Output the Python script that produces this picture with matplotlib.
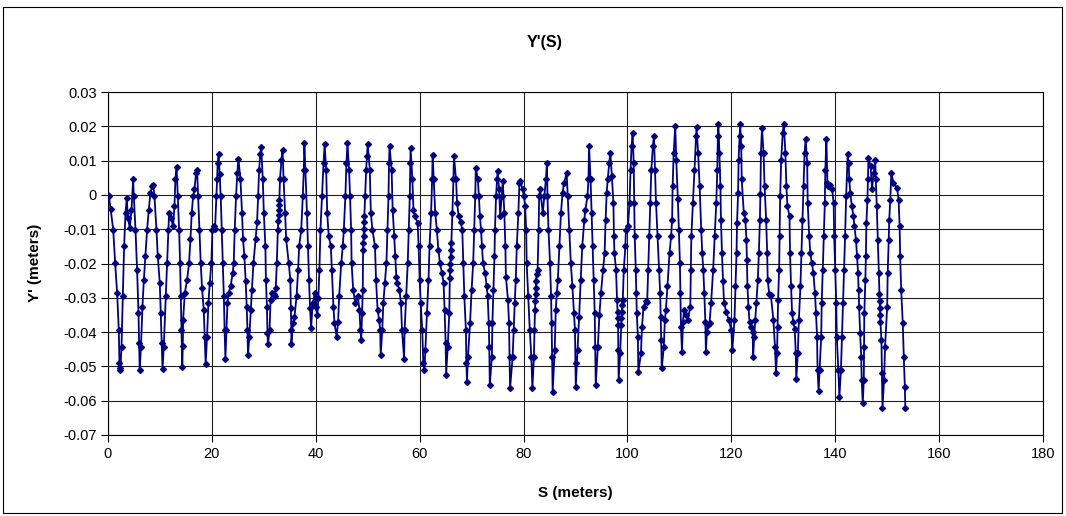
import numpy as np
import matplotlib
matplotlib.use("Agg")
import matplotlib.pyplot as plt
from matplotlib.patches import Rectangle
from matplotlib.ticker import FuncFormatter

# S (m) and Y' (m), one line per oscillation
S_M = [
    0.0, 0.16, 0.5, 1.0, 1.38, 1.76, 2.08, 2.2, 2.27, 2.4, 2.6, 2.85, 3.1, 3.37, 3.62, 3.81, 4.2, 4.52, 4.84,
    4.97, 5.29, 5.6, 5.87, 6.0, 6.1, 6.35, 6.63, 6.9, 7.2, 7.53, 7.85, 8.17, 8.5, 8.69,
    8.94, 9.33, 9.58, 9.97, 10.16, 10.35, 10.5, 10.74, 11.12, 11.38, 11.63, 11.76, 12.15, 12.53, 12.79, 12.98, 13.2,
    13.43, 13.69, 13.88, 14.01, 14.14, 14.3, 14.4, 14.46, 14.78, 15.22, 15.6, 15.87, 16.12, 16.38, 16.63, 16.96, 17.15,
    17.34, 17.6, 17.85, 18.1, 18.43, 18.62, 18.8, 19.07, 19.33, 19.59, 19.9, 20.1, 20.35, 20.6, 20.87, 21.0, 21.12, 21.3,
    21.5, 21.7, 21.9, 22.1, 22.3, 22.45, 22.6, 22.8, 23.0, 23.2, 23.6, 24.0, 24.2, 24.4, 24.65, 24.9, 25.1,
    25.5, 25.8, 26.0, 26.25, 26.5, 26.7, 26.85, 26.95, 27.2, 27.5, 27.7, 28.0, 28.4, 28.7, 28.9, 29.1, 29.3, 29.5,
    29.8, 30.0, 30.3, 30.4, 30.6, 30.7, 30.8, 31.1, 31.3, 31.6, 31.9, 32.1, 32.3, 32.5, 32.7, 32.8, 32.85, 32.9, 32.95, 33.0, 33.1, 33.4, 33.6,
    33.8, 34.1, 34.3, 34.8, 35.1, 35.2, 35.3, 35.3, 35.6, 35.9, 36.3, 36.6, 36.8, 37.2, 37.5, 37.7, 37.8,
    38.0, 38.3, 38.5, 38.7, 38.9, 39.1, 39.4, 39.8, 40.0, 40.3, 40.5, 40.7, 40.9, 41.2, 41.5, 41.7,
    42.0, 42.2, 42.5, 42.9, 43.1, 43.4, 43.6, 44.0, 44.3, 44.5, 44.9, 45.2, 45.4, 45.7, 45.9, 46.1,
    46.4, 46.6, 46.8, 46.9, 47.2, 47.6, 48.1, 48.4, 48.6, 48.75, 48.9, 49.05, 49.1, 49.15, 49.2, 49.25, 49.3, 49.35, 49.5, 49.7, 49.85, 50.0,
    50.4, 50.6, 50.9, 51.4, 51.6, 51.9, 52.2, 52.4, 52.5, 52.8, 53.0, 53.3, 53.6, 53.8, 54.0, 54.1, 54.2,
    54.6, 54.8, 55.1, 55.3, 55.5, 55.7, 56.1, 56.4, 56.6, 57.0, 57.1, 57.4, 57.7, 57.9, 58.1, 58.2, 58.25,
    58.6, 58.8, 59.1, 59.6, 59.8, 60.0, 60.2, 60.5, 60.7, 60.9, 61.1, 61.4, 61.7, 61.9, 62.2, 62.4, 62.5,
    62.7, 63.0, 63.3, 63.6, 63.9, 64.3, 64.6, 64.8, 65.0, 65.1, 65.4, 65.7, 65.8, 65.85, 65.9, 65.95, 66.0, 66.1, 66.3, 66.5, 66.6,
    67.0, 67.2, 67.5, 67.9, 68.2, 68.4, 68.6, 68.9, 69.0, 69.1, 69.3, 69.7, 70.0, 70.3, 70.5, 70.7, 70.8,
    71.2, 71.4, 71.6, 71.8, 72.0, 72.2, 72.6, 72.9, 73.1, 73.3, 73.4, 73.5, 73.9, 74.0, 74.2, 74.4, 74.5, 74.7, 74.9, 75.0, 75.3, 75.5, 75.8, 76.0,
    76.3, 76.5, 76.6, 77.0, 77.2, 77.3, 77.4, 77.9, 78.1, 78.3, 78.5, 78.7, 79.0, 79.2, 79.4,
    79.8, 80.1, 80.3, 80.5, 80.6, 80.9, 81.2, 81.5, 81.7, 82.0, 82.1, 82.2, 82.25, 82.3, 82.35, 82.4, 82.5, 82.7, 82.9, 83.0, 83.2, 83.7, 84.0, 84.3, 84.5,
    84.6, 84.8, 85.1, 85.3, 85.4, 85.5, 85.6, 86.0, 86.2, 86.4, 86.6, 86.9, 87.2, 87.5, 87.8, 88.3,
    88.5, 88.8, 89.1, 89.4, 89.7, 89.9, 90.0, 90.05, 90.4, 90.7, 91.0, 91.3, 91.7, 91.9, 92.3, 92.5, 92.6,
    92.9, 93.1, 93.3, 93.5, 93.7, 93.8, 93.9, 94.3, 94.6, 94.9, 95.3, 95.6, 95.8, 96.0, 96.2, 96.5, 96.7,
    97.0, 97.3, 97.4, 97.5, 97.8, 98.0, 98.1, 98.15, 98.2, 98.25, 98.3, 98.6, 98.8, 98.85, 98.9, 99.0, 99.1, 99.3, 99.6, 99.7, 100.1, 100.4, 100.6, 100.8, 101.0,
    101.2, 101.3, 101.4, 101.6, 101.7, 101.8, 102.0, 102.1, 102.6, 102.8, 103.1, 103.5, 103.8, 104.0, 104.2, 104.4, 104.6, 104.9, 105.1,
    105.3, 105.5, 105.8, 106.1, 106.3, 106.4, 106.5, 106.6, 107.0, 107.2, 107.4, 107.7, 108.1, 108.4, 108.6, 108.7, 108.9, 109.2,
    109.4, 109.7, 109.9, 110.1, 110.2, 110.3, 110.5, 110.7, 110.9, 111.3, 111.6, 112.1, 112.2, 112.3, 112.6, 112.9, 113.2, 113.3,
    113.6, 113.9, 114.2, 114.4, 114.6, 114.8, 115.0, 115.1, 115.3, 115.5, 115.8, 116.1, 116.5, 116.8, 117.1, 117.3, 117.4, 117.5,
    117.7, 117.9, 118.0, 118.2, 118.4, 118.6, 119.0, 119.5, 120.0, 120.2, 120.6, 120.8, 121.0, 121.1, 121.3, 121.4, 121.6, 121.7,
    121.9, 122.0, 122.4, 122.7, 122.9, 123.0, 123.1, 123.3, 123.5, 123.8, 124.1, 124.2, 124.4, 124.6, 124.8, 125.1, 125.3, 125.5, 125.6, 125.7, 125.9,
    126.2, 126.4, 126.7, 126.9, 127.0, 127.3, 127.6, 128.1, 128.4, 128.6, 128.8, 128.9, 129.0, 129.2, 129.3, 129.4, 129.6, 129.9, 130.1,
    130.4, 130.6, 130.8, 131.2, 131.3, 131.5, 131.7, 131.9, 132.2, 132.4, 132.5, 132.8, 133.0, 133.3, 133.5, 133.7, 133.9, 134.1, 134.3,
    134.6, 134.7, 135.0, 135.2, 135.5, 135.8, 136.1, 136.3, 136.5, 136.6, 136.8, 137.0, 137.3, 137.4, 137.6, 137.8, 138.0, 138.1, 138.3,
    138.5, 138.7, 139.0, 139.4, 139.7, 139.8, 140.0, 140.2, 140.3, 140.6, 140.8, 141.1, 141.3, 141.5, 141.7, 141.9, 142.1, 142.4,
    142.6, 142.7, 142.9, 143.2, 143.5, 143.7, 144.0, 144.2, 144.4, 144.5, 144.6, 144.8, 145.0, 145.1, 145.3, 145.5, 145.55, 145.6, 145.8, 145.9, 146.0, 146.2, 146.3, 146.4,
    146.8, 147.1, 147.4, 147.7, 147.8, 148.0, 148.2, 148.4, 148.5, 148.55, 148.6, 148.65, 148.7, 148.9, 149.0, 149.1, 149.4, 149.6, 150.0, 150.1, 150.3, 150.4, 150.6, 150.8,
    151.2, 151.9, 152.2, 152.4, 152.5, 152.7, 153.0, 153.2, 153.4, 153.5,
]

YP_M = [
    0.0, -0.0003, -0.004, -0.0101, -0.0199, -0.0287, -0.0394, -0.049, -0.0511, -0.0505, -0.0443, -0.0296, -0.015, -0.0053, -0.0009, -0.0067, -0.0096, -0.0043, 0.0045,
    -0.0004, -0.0101, -0.0218, -0.0345, -0.0433, -0.0511, -0.0442, -0.0326, -0.0248, -0.0179, -0.0101, -0.0043, 0.0006, 0.0025, 0.003,
    -0.0004, -0.0101, -0.0179, -0.0257, -0.0345, -0.0433, -0.0509, -0.0442, -0.0296, -0.0199, -0.0101, -0.0053, -0.0067, -0.0092, -0.0033, 0.0045, 0.0082,
    -0.0004, -0.0101, -0.0199, -0.0296, -0.0394, -0.0501, -0.044, -0.0365, -0.0287, -0.0248, -0.0199, -0.013, -0.0053, -0.0004, 0.0016, 0.0064, 0.0072,
    -0.0004, -0.0101, -0.0199, -0.027, -0.0335, -0.0413, -0.0493, -0.0413, -0.0316, -0.0257, -0.0199, -0.0101, -0.0092, -0.01, -0.0004, 0.0045, 0.0094, 0.0118,
    0.006, -0.0004, -0.0101, -0.0199, -0.0296, -0.0394, -0.0477, -0.0394, -0.0316, -0.0287, -0.0267, -0.0228, -0.0199, -0.0101, -0.0004, 0.0064, 0.0106,
    0.0045, -0.0053, -0.013, -0.0179, -0.025, -0.0326, -0.0394, -0.0467, -0.0413, -0.0335, -0.0277, -0.0199, -0.013, -0.008, -0.0004, 0.0074, 0.0118, 0.0139,
    0.0045, -0.0053, -0.015, -0.0248, -0.0326, -0.0404, -0.0436, -0.0394, -0.0306, -0.0287, -0.029, -0.0296, -0.027, -0.0199, -0.0101, -0.0075, -0.006, -0.0045, -0.003, -0.0015, 0.0045, 0.0103, 0.0132,
    0.0045, -0.0053, -0.013, -0.0199, -0.0248, -0.033, -0.0394, -0.0435, -0.0374, -0.0355, -0.0296, -0.0218, -0.015, -0.0101, -0.0004, 0.0074, 0.0152,
    0.0074, -0.0053, -0.015, -0.0248, -0.033, -0.0389, -0.0316, -0.0287, -0.0326, -0.035, -0.03, -0.0218, -0.0101, -0.0004, 0.0094, 0.0147,
    0.0074, -0.0053, -0.0121, -0.015, -0.0218, -0.0326, -0.0374, -0.0413, -0.037, -0.0296, -0.0199, -0.015, -0.0101, -0.0004, 0.0094, 0.0152,
    0.0074, -0.0004, -0.0101, -0.0199, -0.0277, -0.0316, -0.0296, -0.0335, -0.0394, -0.0423, -0.0345, -0.0277, -0.016, -0.014, -0.012, -0.01, -0.008, -0.0062, -0.0004, 0.0074, 0.0113, 0.0149,
    0.0074, -0.0053, -0.0101, -0.015, -0.0248, -0.0335, -0.0365, -0.0394, -0.0467, -0.0394, -0.0316, -0.0257, -0.0199, -0.0101, -0.0004, 0.0094, 0.0142,
    0.0074, -0.0043, -0.0121, -0.0179, -0.0238, -0.0257, -0.0277, -0.0316, -0.0394, -0.0477, -0.0394, -0.0296, -0.0199, -0.0101, -0.0004, 0.0094, 0.0137,
    0.0045, -0.0043, -0.0062, -0.0082, -0.015, -0.0248, -0.0316, -0.0394, -0.0491, -0.0511, -0.0452, -0.0345, -0.0248, -0.015, -0.0053, 0.0045, 0.0115,
    0.0045, -0.0053, -0.0101, -0.016, -0.0199, -0.0228, -0.0257, -0.0335, -0.0433, -0.0525, -0.0442, -0.0345, -0.0243, -0.022, -0.02, -0.018, -0.016, -0.014, -0.0053, 0.0045, 0.0113,
    0.0045, -0.0023, -0.0062, -0.008, -0.0101, -0.0199, -0.0296, -0.0394, -0.0491, -0.0545, -0.0472, -0.0374, -0.0277, -0.0199, -0.0101, -0.0004, 0.0079,
    0.0045, -0.0004, -0.0062, -0.0101, -0.015, -0.0199, -0.0228, -0.0267, -0.0296, -0.0374, -0.0443, -0.0555, -0.0472, -0.0374, -0.0277, -0.0179, -0.0101, -0.0004, 0.0045, 0.0069, 0.0016, -0.0062, -0.0004, 0.004,
    -0.0053, -0.015, -0.0238, -0.0306, -0.0374, -0.0472, -0.0564, -0.0472, -0.0394, -0.0316, -0.0248, -0.015, -0.0053, 0.0035, 0.004,
    0.0016, -0.0004, -0.0033, -0.0101, -0.0199, -0.0296, -0.0394, -0.0472, -0.0564, -0.0472, -0.0394, -0.0335, -0.031, -0.029, -0.027, -0.025, -0.023, -0.0218, -0.0101, -0.0004, 0.0016, -0.0053, -0.0004, 0.0045, 0.0094,
    -0.0004, -0.0101, -0.0199, -0.0296, -0.0374, -0.0472, -0.0574, -0.0452, -0.0335, -0.0287, -0.0248, -0.015, -0.0053, 0.0006, 0.0035, 0.0064,
    -0.0004, -0.0101, -0.0199, -0.0267, -0.0345, -0.0394, -0.0491, -0.056, -0.0452, -0.0355, -0.0248, -0.015, -0.0072, -0.0043, -0.0004, 0.0045, 0.0144,
    0.0045, -0.0053, -0.015, -0.0248, -0.0345, -0.0443, -0.0555, -0.0443, -0.035, -0.0287, -0.0218, -0.017, -0.0072, 0.0006, 0.0045, 0.0094, 0.0123,
    0.0055, -0.0023, -0.0121, -0.017, -0.0218, -0.0306, -0.034, -0.036, -0.038, -0.0452, -0.054, -0.0462, -0.038, -0.036, -0.034, -0.032, -0.0306, -0.0218, -0.015, -0.0101, -0.0092, -0.0023, 0.0074, 0.0142, 0.0181,
    0.0093, -0.0023, -0.0121, -0.0218, -0.0287, -0.0345, -0.0413, -0.0516, -0.0462, -0.0384, -0.0326, -0.031, -0.0311, -0.0218, -0.0121, -0.0023, 0.0074, 0.0142, 0.0172,
    0.0074, -0.0023, -0.0121, -0.0218, -0.0287, -0.0355, -0.0423, -0.0506, -0.0443, -0.0365, -0.0335, -0.0267, -0.017, -0.0121, -0.0072, 0.0025, 0.0123, 0.0201,
    0.0103, -0.0013, -0.0101, -0.0199, -0.0287, -0.0384, -0.0457, -0.037, -0.0335, -0.035, -0.0365, -0.0326, -0.0218, -0.0121, -0.0023, 0.0074, 0.0172, 0.0199,
    0.0123, 0.0025, -0.0101, -0.017, -0.0218, -0.0287, -0.037, -0.0457, -0.04, -0.038, -0.0374, -0.0316, -0.0218, -0.0121, -0.0023, 0.0074, 0.0172, 0.0208,
    0.0123, 0.0025, -0.0072, -0.017, -0.025, -0.0316, -0.034, -0.0365, -0.0394, -0.0452, -0.0365, -0.0267, -0.017, -0.0082, 0.0006, 0.0103, 0.0172, 0.0208,
    0.0142, 0.0045, -0.0053, -0.0072, -0.0131, -0.0189, -0.0267, -0.0326, -0.037, -0.0384, -0.04, -0.0472, -0.0413, -0.0365, -0.0316, -0.0248, -0.017, -0.0072, 0.0004, 0.0123, 0.0196,
    0.0123, 0.0025, -0.0072, -0.017, -0.0248, -0.029, -0.0291, -0.0365, -0.0442, -0.0519, -0.0462, -0.0384, -0.0306, -0.0218, -0.0121, -0.0004, 0.0103, 0.0181, 0.0208,
    0.0123, 0.0025, -0.0033, -0.0062, -0.017, -0.0267, -0.0345, -0.037, -0.039, -0.0462, -0.0538, -0.0462, -0.0365, -0.0267, -0.017, -0.0072, 0.0025, 0.0123, 0.0164,
    0.0094, -0.0023, -0.0121, -0.017, -0.0199, -0.0228, -0.0287, -0.0345, -0.0413, -0.0511, -0.0572, -0.0511, -0.0413, -0.0316, -0.0218, -0.0121, -0.0023, 0.0074, 0.0164,
    0.0035, 0.0025, 0.003, 0.0016, -0.0023, -0.0121, -0.0218, -0.0316, -0.0413, -0.0511, -0.0589, -0.0511, -0.0413, -0.0316, -0.0218, -0.0121, -0.0004, 0.0118,
    0.0094, 0.0045, 0.0006, -0.0033, -0.0062, -0.0092, -0.0131, -0.0179, -0.0228, -0.0277, -0.0326, -0.0404, -0.0472, -0.054, -0.0608, -0.054, -0.0442, -0.0345, -0.0248, -0.0179, -0.0082, -0.0014, 0.0045, 0.0108,
    0.0084, 0.0016, 0.0064, 0.0103, 0.0045, -0.0033, -0.0131, -0.0228, -0.029, -0.031, -0.033, -0.035, -0.037, -0.0423, -0.052, -0.0621, -0.054, -0.0442, -0.0326, -0.0228, -0.0131, -0.0072, -0.0014, 0.0064,
    0.0035, 0.002, -0.0014, -0.0092, -0.0179, -0.0277, -0.0374, -0.0472, -0.0559, -0.0621,
]

X_TICKS = [0, 20, 40, 60, 80, 100, 120, 140, 160, 180]
Y_TICKS = [0.03, 0.02, 0.01, 0, -0.01, -0.02, -0.03, -0.04, -0.05, -0.06, -0.07]

assert len(S_M) == len(YP_M)

plt.rcParams["font.family"] = ["Liberation Sans", "DejaVu Sans"]

W, H = 1066, 516
fig = plt.figure(figsize=(W / 100, H / 100), dpi=100)
fig.patch.set_facecolor("white")

# borda externa do gráfico (estilo Excel)
fig.patches.append(Rectangle((3 / W, 1 - 513 / H), 1059 / W, 506 / H,
                             transform=fig.transFigure, fill=False,
                             edgecolor="black", linewidth=0.8))

ax = fig.add_axes([108 / W, 1 - 435 / H, (1043 - 108) / W, (435 - 92) / H])
ax.plot(S_M, YP_M, color="#000080", linewidth=1.3, marker="D",
        markersize=3.0, markerfacecolor="#000080", markeredgecolor="#000080",
        zorder=3)

ax.set_xlim(0, 180)
ax.set_ylim(-0.07, 0.03)
ax.set_xticks(X_TICKS)
ax.set_yticks(Y_TICKS)
ax.xaxis.set_major_formatter(FuncFormatter(lambda v, p: f"{int(round(v))}"))


def fmt_y(v, p):
    v = round(v, 2)
    if v == 0:
        return "0"
    return f"{v:g}"


ax.yaxis.set_major_formatter(FuncFormatter(fmt_y))
ax.grid(True, color="#202020", linewidth=0.8, zorder=0)
ax.set_axisbelow(True)
for side in ax.spines.values():
    side.set_color("black")
    side.set_linewidth(0.8)
ax.tick_params(axis="both", direction="out", length=5, width=0.8,
               labelsize=10.5, colors="black")
ax.tick_params(axis="x", pad=4)
ax.tick_params(axis="y", pad=3)

fig.text(545 / W, 1 - 42 / H, "Y'(S)", ha="center", va="center",
         fontsize=11.5, fontweight="bold")
fig.text(575 / W, 1 - 493 / H, "S (meters)", ha="center", va="center",
         fontsize=11, fontweight="bold")
fig.text(35 / W, 1 - 263 / H, "Y' (meters)", ha="center", va="center",
         rotation=90, fontsize=11, fontweight="bold")

fig.savefig("out.png", dpi=100)
